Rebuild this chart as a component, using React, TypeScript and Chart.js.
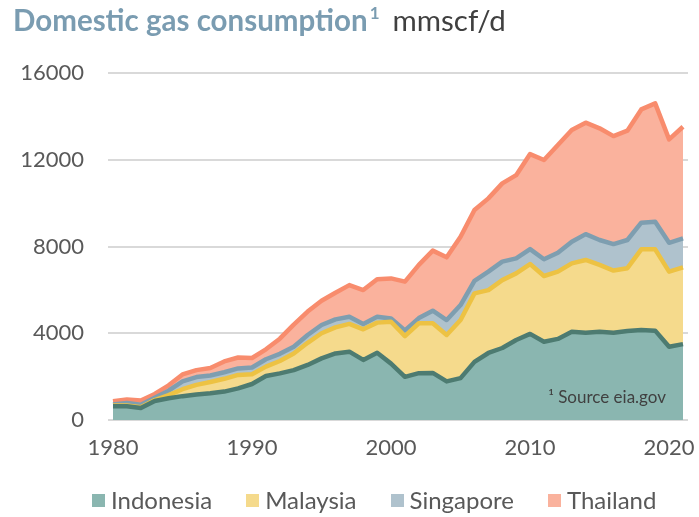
import React, { useEffect, useRef } from "react";
import { Chart, registerables } from "chart.js";

Chart.register(...registerables);

const years = [
  1980, 1981, 1982, 1983, 1984, 1985, 1986, 1987, 1988, 1989,
  1990, 1991, 1992, 1993, 1994, 1995, 1996, 1997, 1998, 1999,
  2000, 2001, 2002, 2003, 2004, 2005, 2006, 2007, 2008, 2009,
  2010, 2011, 2012, 2013, 2014, 2015, 2016, 2017, 2018, 2019,
  2020, 2021,
];

const indonesia = [
  630, 630, 550, 880, 1000, 1100, 1180, 1230, 1310, 1460,
  1660, 2030, 2150, 2300, 2540, 2840, 3070, 3150, 2770, 3100,
  2600, 1990, 2160, 2170, 1780, 1930, 2680, 3090, 3320, 3690,
  3970, 3610, 3740, 4070, 4020, 4070, 4020, 4100, 4150, 4120,
  3380, 3500,
];

const malaysia = [
  40, 40, 40, 40, 150, 320, 440, 520, 590, 620,
  450, 430, 570, 770, 1020, 1160, 1200, 1280, 1410, 1390,
  1930, 1880, 2300, 2290, 2140, 2680, 3160, 2900, 3130, 3070,
  3220, 3030, 3100, 3150, 3360, 3080, 2870, 2900, 3720, 3750,
  3460, 3540,
];

const singapore = [
  50, 110, 110, 100, 200, 360, 360, 300, 300, 300,
  310, 340, 330, 310, 360, 380, 370, 330, 250, 270,
  150, 260, 240, 580, 690, 690, 580, 850, 850, 690,
  690, 770, 870, 1000, 1190, 1150, 1220, 1300, 1230, 1270,
  1330, 1330,
];

const thailand = [
  140, 170, 200, 180, 250, 320, 320, 350, 500, 500,
  440, 460, 700, 1020, 1080, 1120, 1230, 1460, 1560, 1730,
  1850, 2250, 2450, 2770, 2890, 3150, 3260, 3380, 3610, 3840,
  4380, 4580, 4970, 5150, 5140, 5150, 4980, 5040, 5220, 5460,
  4770, 5150,
];

const seriesNames = ["Indonesia", "Malaysia", "Singapore", "Thailand"];
const fillColors = ["#8AB6B0", "#F5DA8C", "#AFC2CD", "#FAB29D"];
const lineColors = ["#4D7B71", "#EDC243", "#7E9EB0", "#F88C6D"];

const xTickValues = [1980, 1990, 2000, 2010, 2020];
const xTickLabels = ["1980", "1990", "2000", "2010", "2020"];
const yTickValues = [0, 4000, 8000, 12000, 16000];
const yTickLabels = ["0", "4000", "8000", "12000", "16000"];

const sourceNote = "\u00B9 Source eia.gov";

const FONT = "Lato, 'Open Sans', sans-serif";

export default function App() {
  const canvasRef = useRef<HTMLCanvasElement | null>(null);

  useEffect(() => {
    const canvas = canvasRef.current;
    if (!canvas) return;
    const allSeries = [indonesia, malaysia, singapore, thailand];

    const sourcePlugin = {
      id: "sourceNote",
      afterDatasetsDraw(chart: any) {
        const { ctx, chartArea } = chart;
        ctx.save();
        ctx.font = `17px ${FONT}`;
        ctx.fillStyle = "#404040";
        ctx.textAlign = "right";
        ctx.textBaseline = "middle";
        ctx.fillText(sourceNote, chartArea.right - 22, chartArea.bottom - 22);
        ctx.restore();
      },
    };

    const chart = new Chart(canvas, {
      type: "line",
      data: {
        datasets: allSeries.map((vals, i) => ({
          label: seriesNames[i],
          data: years.map((yr, j) => ({ x: yr, y: vals[j] })),
          backgroundColor: fillColors[i],
          borderColor: lineColors[i],
          borderWidth: 4.5,
          pointRadius: 0,
          pointHoverRadius: 0,
          tension: 0,
          borderJoinStyle: "round" as const,
          fill: i === 0 ? "origin" : "-1",
        })),
      },
      options: {
        animation: false,
        responsive: false,
        maintainAspectRatio: false,
        layout: { padding: { left: 14, right: 11, top: 73, bottom: 57 } },
        plugins: {
          tooltip: { enabled: false },
          legend: { display: false },
        },
        scales: {
          x: {
            type: "linear",
            min: 1979.64,
            max: 2021.36,
            grid: { display: false, drawTicks: true, tickLength: 15, tickColor: "rgba(0,0,0,0)" },
            border: { display: false },
            afterBuildTicks(axis: any) {
              axis.ticks = xTickValues.map((v) => ({ value: v }));
            },
            afterFit(axis: any) {
              axis.height = 40;
            },
            ticks: {
              padding: 0,
              color: "#595959",
              font: { family: FONT, size: 22 },
              maxRotation: 0,
              autoSkip: false,
              callback: (v: any) => {
                const idx = xTickValues.indexOf(Number(v));
                return idx >= 0 ? xTickLabels[idx] : "";
              },
            },
          },
          y: {
            stacked: true,
            min: 0,
            max: 16000,
            grid: { color: "#D9D9D9", lineWidth: 2, drawTicks: false },
            border: { display: false },
            afterBuildTicks(axis: any) {
              axis.ticks = yTickValues.map((v) => ({ value: v }));
            },
            afterFit(axis: any) {
              axis.width = 94;
            },
            ticks: {
              padding: 24,
              color: "#595959",
              font: { family: FONT, size: 22 },
              callback: (v: any) => {
                const idx = yTickValues.indexOf(Number(v));
                return idx >= 0 ? yTickLabels[idx] : "";
              },
            },
          },
        },
      },
      plugins: [sourcePlugin],
    } as any);

    return () => chart.destroy();
  }, []);

  return (
    <div
      style={{
        position: "fixed",
        left: 0,
        top: 0,
        width: 699,
        height: 517,
        background: "#ffffff",
        overflow: "hidden",
      }}
    >
      <canvas
        ref={canvasRef}
        width={699}
        height={517}
        style={{ position: "absolute", left: 0, top: 0, width: 699, height: 517 }}
      />
      <div
        style={{
          position: "absolute",
          left: 13,
          top: 2,
          fontFamily: FONT,
          fontSize: 29.5,
          lineHeight: "36px",
          whiteSpace: "nowrap",
        }}
      >
        <span style={{ fontWeight: 700, color: "#7A9CB1" }}>Domestic gas consumption</span>
        <span
          style={{
            fontWeight: 700,
            color: "#7A9CB1",
            fontSize: 17,
            position: "relative",
            top: -12,
            marginLeft: 2,
          }}
        >
          1
        </span>
        <span style={{ fontWeight: 400, color: "#404040", marginLeft: 13 }}>mmscf/d</span>
      </div>
      <div
        style={{
          position: "absolute",
          left: 92,
          top: 486,
          display: "flex",
          alignItems: "center",
          gap: 34,
          fontFamily: FONT,
          fontSize: 24,
          lineHeight: "28px",
          color: "#595959",
          whiteSpace: "nowrap",
        }}
      >
        {seriesNames.map((name, i) => (
          <div key={name} style={{ display: "flex", alignItems: "center" }}>
            <span
              style={{
                display: "inline-block",
                width: 13,
                height: 13,
                background: fillColors[i],
                marginRight: 6,
              }}
            />
            <span>{name}</span>
          </div>
        ))}
      </div>
    </div>
  );
}
